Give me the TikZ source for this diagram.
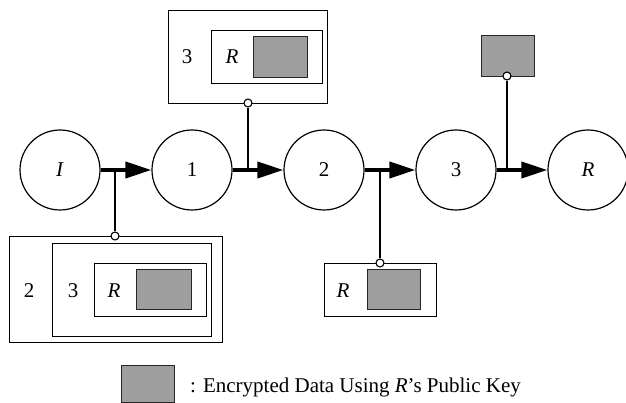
\documentclass[tikz,border=0pt]{standalone}
\usepackage{fontspec}
\setmainfont{Liberation Serif}
\usetikzlibrary{arrows.meta}
\begin{document}
\begin{tikzpicture}[x=1pt,y=-1pt,
  every node/.style={font=\fontsize{21pt}{25pt}\selectfont},
  hop/.style={draw, circle, line width=1.2pt, minimum size=80pt, inner sep=0pt},
  box/.style={draw, line width=1.3pt, inner sep=0pt, anchor=north west},
  enc/.style={draw=black!85, fill=black!38, line width=1.3pt, inner sep=0pt, anchor=north west},
  tap/.style={draw, circle, fill=white, line width=1.1pt, minimum size=8pt, inner sep=0pt},
  flow/.style={line width=4pt, -{Triangle[length=26pt,width=16pt]}},
  stem/.style={line width=1.2pt},
  lbl/.style={inner sep=0pt}]
\useasboundingbox (0,0) rectangle (626,403);
% hops
\node[hop] (cI) at (60,170) {\textit{I}};
\node[hop] (c1) at (192,170) {1};
\node[hop] (c2) at (324,170) {2};
\node[hop] (c3) at (456,170) {3};
\node[hop] (cR) at (588,170) {\textit{R}};
% junction points
\coordinate (j1) at (115,170);
\coordinate (j2) at (248,170);
\coordinate (j3) at (380,170);
\coordinate (j4) at (507,170);
% box A (bottom left)
\node[box, minimum width=213pt, minimum height=106pt] (a1) at (9,236) {};
\node[box, minimum width=159pt, minimum height=93pt] (a2) at (52,243) {};
\node[box, minimum width=112pt, minimum height=53pt] (a3) at (94,263) {};
\node[enc, minimum width=55pt, minimum height=40pt] (ae) at (136,269) {};
\node[lbl] (a1t) at (29,291) {2};
\node[lbl] (a2t) at (73,291) {3};
\node[lbl] (a3t) at (114,291) {\textit{R}};
% box B (top)
\node[box, minimum width=159pt, minimum height=93pt] (b1) at (168,10) {};
\node[box, minimum width=111pt, minimum height=53pt] (b2) at (211,30) {};
\node[enc, minimum width=54pt, minimum height=41pt] (be) at (253,36) {};
\node[lbl] (b1t) at (187,57) {3};
\node[lbl] (b2t) at (232,57) {\textit{R}};
% box C
\node[box, minimum width=112pt, minimum height=53pt] (c1b) at (324,263) {};
\node[enc, minimum width=53pt, minimum height=40pt] (ce) at (367,269) {};
\node[lbl] (c1t) at (343,291) {\textit{R}};
% box D
\node[enc, minimum width=53pt, minimum height=41pt] (de) at (481,35) {};
% stems
\node[tap] (t1) at (115,236) {};
\node[tap] (t2) at (248,103) {};
\node[tap] (t3) at (380,263) {};
\node[tap] (t4) at (507,76) {};
\draw[stem] (j1) -- (t1.north);
\draw[stem] (j2) -- (t2.south);
\draw[stem] (j3) -- (t3.north);
\draw[stem] (j4) -- (t4.south);
% flows
\draw[flow] (cI.east) -- (c1.west);
\draw[flow] (c1.east) -- (c2.west);
\draw[flow] (c2.east) -- (c3.west);
\draw[flow] (c3.east) -- (cR.west);
% legend
\node[enc, minimum width=53pt, minimum height=37pt] (le) at (121,365) {};
\node[lbl, anchor=base west] (lt) at (190,392) {: Encrypted Data Using \textit{R}’s Public Key};
\end{tikzpicture}
\end{document}
